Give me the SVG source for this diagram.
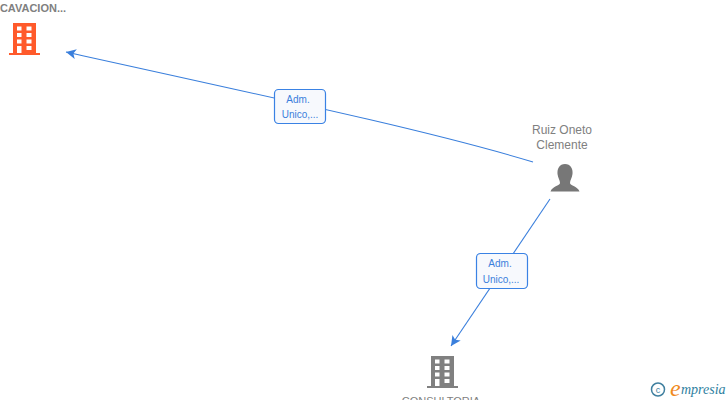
<svg xmlns="http://www.w3.org/2000/svg" width="728" height="400" viewBox="0 0 728 400">
<style>
.n{font-family:"Liberation Sans",Arial,sans-serif;font-size:12px;fill:#808080;text-anchor:middle}
.t{font-family:"Liberation Sans",Arial,sans-serif;font-size:11px;fill:#808080;text-anchor:middle}
.b{font-family:"Liberation Sans",Arial,sans-serif;font-size:10px;fill:#3a7fdc;text-anchor:middle}
.box{fill:#f7f9fd;stroke:#3a82e4;stroke-width:1.2}
.c{fill:none;stroke:#3a7fdc;stroke-width:1.1}
</style>
<defs>
<marker id="a" markerUnits="userSpaceOnUse" markerWidth="12" markerHeight="12" refX="10" refY="5" orient="auto"><path d="M10 5L0 0L2.500 5L0 10Z" fill="#3a7fdc"/></marker>
<g id="bld">
<path fill-rule="evenodd" d="M4 0H27V30H31V32H0V30H4ZM8 3.500V7.500H12.500V3.500ZM17.500 3.500V7.500H22.500V3.500ZM8 10V14H12.500V10ZM17.500 10V14H22.500V10ZM8 16.500V20.500H12.500V16.500ZM17.500 16.500V20.500H22.500V16.500ZM8 23V30H12.500V23ZM17.500 23V27H22.500V23Z"/>
</g>
</defs>
<g id="connectors">
<path class="c" d="M533 162C440 134 330 110 66 52" marker-end="url(#a)"/>
<path class="c" d="M550 199L451 346" marker-end="url(#a)"/>
</g>
<g id="edge-label-1"><rect class="box" x="274.500" y="89.500" width="51" height="34" rx="4"/><text class="b" x="298" y="103">Adm.</text><text class="b" x="300" y="118">Unico,...</text></g>
<g id="edge-label-2"><rect class="box" x="476.500" y="253.500" width="51" height="35" rx="4"/><text class="b" x="500" y="267">Adm.</text><text class="b" x="501" y="283">Unico,...</text></g>
<g id="node-excavacion"><text class="t" x="33" y="12" font-weight="bold">CAVACION...</text><use href="#bld" x="9" y="23" fill="#ff5a2b"/></g>
<g id="node-ruiz"><text class="n" x="562" y="134">Ruiz Oneto</text><text class="n" x="562" y="149">Clemente</text>
<path d="M565 164C570.500 164 573 168.500 572.500 174C572 178 570 180 570 183C570 185.500 578 186.500 579.500 191.500H550.500C552 186.500 560 185.500 560 183C560 180 558 178 557.500 174C557 168.500 559.500 164 565 164Z" fill="#777"/></g>
<g id="node-consultoria"><use href="#bld" x="427" y="356" fill="#808080"/><text class="t" x="441" y="405">CONSULTORIA</text></g>
<g id="watermark"><circle cx="658" cy="389.500" r="6.500" fill="none" stroke="#3f7f9f" stroke-width="1.500"/><text x="658" y="392.500" font-family="'Liberation Sans',sans-serif" font-size="9" fill="#3f7f9f" text-anchor="middle">c</text>
<text x="670" y="396" font-family="'Liberation Serif',serif" font-style="italic" font-size="24" fill="#f08a1d">e</text><text x="681" y="394" font-family="'Liberation Serif',serif" font-style="italic" font-size="14" fill="#2f7f9f">mpresia</text></g>
</svg>
